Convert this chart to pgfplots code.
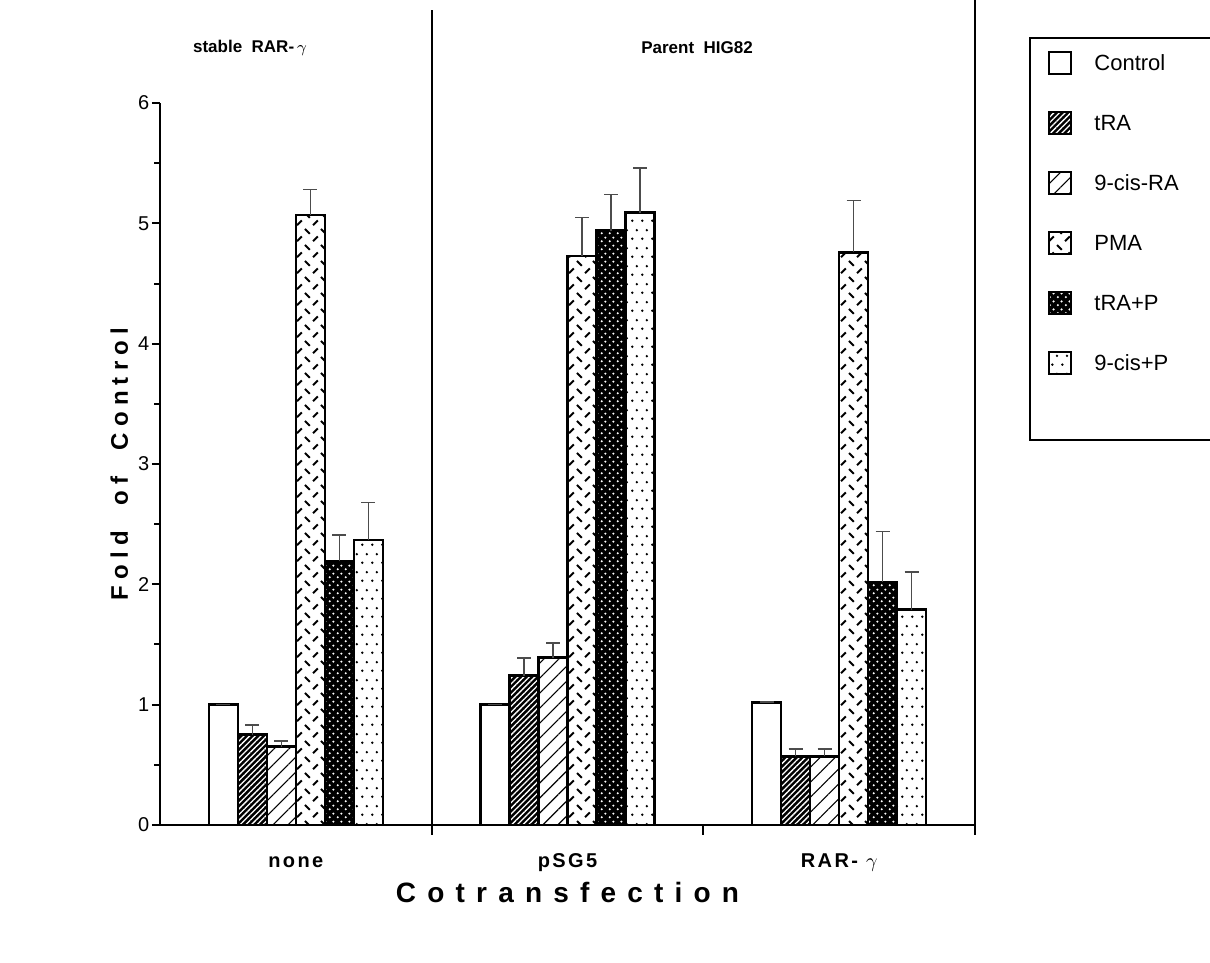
\documentclass[border=0pt]{standalone}
\usepackage{fontspec}
\setmainfont{Liberation Sans}
\usepackage{pgfplots}
\pgfplotsset{compat=1.18}
\usetikzlibrary{patterns,patterns.meta}

\pgfdeclarepatternformonly{pmadash}{\pgfqpoint{-1pt}{-1pt}}{\pgfqpoint{9pt}{9pt}}{\pgfqpoint{8pt}{8pt}}{%
  \pgfsetlinewidth{1pt}%
  \pgfpathmoveto{\pgfqpoint{0.5pt}{7pt}}\pgfpathlineto{\pgfqpoint{2.9pt}{4.6pt}}%
  \pgfpathmoveto{\pgfqpoint{4.5pt}{0.9pt}}\pgfpathlineto{\pgfqpoint{6.9pt}{3.3pt}}%
  \pgfusepath{stroke}}
\pgfdeclarepatternformonly{whitedots}{\pgfqpoint{0pt}{0pt}}{\pgfqpoint{4pt}{4pt}}{\pgfqpoint{4pt}{4pt}}{%
  \pgfpathcircle{\pgfqpoint{1pt}{1pt}}{0.65pt}%
  \pgfpathcircle{\pgfqpoint{3pt}{3pt}}{0.65pt}%
  \pgfusepath{fill}}
\pgfdeclarepatternformonly{sparsedots}{\pgfqpoint{0pt}{0pt}}{\pgfqpoint{5pt}{9pt}}{\pgfqpoint{5pt}{9pt}}{%
  \pgfpathcircle{\pgfqpoint{1.25pt}{2.25pt}}{0.7pt}%
  \pgfpathcircle{\pgfqpoint{3.75pt}{6.75pt}}{0.7pt}%
  \pgfusepath{fill}}

\begin{document}
\begin{tikzpicture}
\begin{axis}[
  at={(80pt,69pt)}, anchor=south west,
  scale only axis, width=407.5pt, height=361pt,
  clip=false,
  xmin=-0.5, xmax=2.5, ymin=0, ymax=6,
  axis x line=bottom, axis y line=left,
  axis line style={-, line width=1pt},
  ytick={0,1,2,3,4,5,6},
  minor ytick={0.5,1.5,2.5,3.5,4.5,5.5},
  ytick align=outside,
  y tick style={line width=1pt, black},
  major tick length=4pt, minor tick length=3pt,
  yticklabel style={font=\fontsize{10}{11}\selectfont, inner xsep=1.2pt},
  /pgf/number format/assume math mode=true,
  xtick={0,1,2},
  xticklabels={none, pSG5, {RAR-~$\gamma$}},
  x tick style={draw=none},
  xticklabel style={font=\fontsize{10}{11}\selectfont\bfseries\addfontfeatures{LetterSpace=12}, text height=7.5pt, text depth=2pt, yshift=-6pt},
  extra x ticks={0.5,1.5,2.5},
  extra x tick labels={},
  extra x tick style={x tick style={draw=black, line width=1pt}, xtick align=outside, major tick length=5pt},
  xlabel={Cotransfection},
  xlabel style={at={(axis description cs:0.5,-0.094)}, anchor=center, font=\fontsize{14}{16}\selectfont\bfseries\addfontfeatures{LetterSpace=40}},
  ylabel={Fold\ \ of\ \ Control},
  ylabel style={at={(axis description cs:-0.05,0.5)}, anchor=center, font=\fontsize{12}{13}\selectfont\bfseries\addfontfeatures{LetterSpace=26}},
  ybar=0pt, bar width=14.5pt,
  every axis plot/.append style={draw=black, line width=1.3pt},
  error bars/y dir=plus, error bars/y explicit,
  error bars/error bar style={line width=0.8pt, black!70},
  error bars/error mark options={rotate=90, mark size=3.5pt, line width=0.8pt, black!70},
  legend image code/.code={\draw[#1, line width=1.1pt] (0pt,-5pt) rectangle (11pt,6pt);},
  legend style={at={(axis description cs:1.082,1.079)}, anchor=north west, draw=none, fill=none,
    font=\fontsize{11}{13}\selectfont, row sep=16pt,
    nodes={text height=8pt, text depth=2pt, inner sep=2pt},
    /tikz/every odd column/.append style={column sep=9pt}},
  legend cell align=left,
]
\addplot[fill=white] coordinates {(0,1.00) +- (0,0) (1,1.00) +- (0,0) (2,1.02) +- (0,0)};
\addlegendentry{Control}
\addplot[fill=black, postaction={pattern={Lines[angle=45,distance=2pt,line width=0.65pt]}, pattern color=white}]
  coordinates {(0,0.75) +- (0,0.08) (1,1.24) +- (0,0.15) (2,0.57) +- (0,0.06)};
\addlegendentry{tRA}
\addplot[fill=white, postaction={pattern={Lines[angle=45,distance=5.3pt,line width=0.55pt]}, pattern color=black}]
  coordinates {(0,0.65) +- (0,0.05) (1,1.39) +- (0,0.12) (2,0.57) +- (0,0.06)};
\addlegendentry{9-cis-RA}
\addplot[fill=white, postaction={pattern=pmadash, pattern color=black}]
  coordinates {(0,5.07) +- (0,0.21) (1,4.73) +- (0,0.32) (2,4.76) +- (0,0.43)};
\addlegendentry{PMA}
\addplot[fill=black, postaction={pattern=whitedots, pattern color=white}]
  coordinates {(0,2.19) +- (0,0.22) (1,4.94) +- (0,0.30) (2,2.02) +- (0,0.42)};
\addlegendentry{tRA+P}
\addplot[fill=white, postaction={pattern=sparsedots, pattern color=black}]
  coordinates {(0,2.37) +- (0,0.31) (1,5.09) +- (0,0.37) (2,1.79) +- (0,0.31)};
\addlegendentry{9-cis+P}

\draw[line width=1pt] (axis cs:0.5,0) -- (axis cs:0.5,6.77);
\draw[line width=1pt] (axis cs:2.5,0) -- (axis cs:2.5,6.9);
\node[font=\fontsize{8.5}{10}\selectfont\bfseries] at (axis cs:-0.169,6.457) {stable\ \ RAR-\,$\gamma$};
\node[font=\fontsize{8.5}{10}\selectfont\bfseries] at (axis cs:1.477,6.457) {Parent\ \ HIG82};
\draw[line width=1pt] (axis description cs:1.0675,0.533) rectangle (axis description cs:1.35,1.090);
\end{axis}
\pgfresetboundingbox
\useasboundingbox (0,0) rectangle (605pt,481.5pt);
\end{tikzpicture}
\end{document}
